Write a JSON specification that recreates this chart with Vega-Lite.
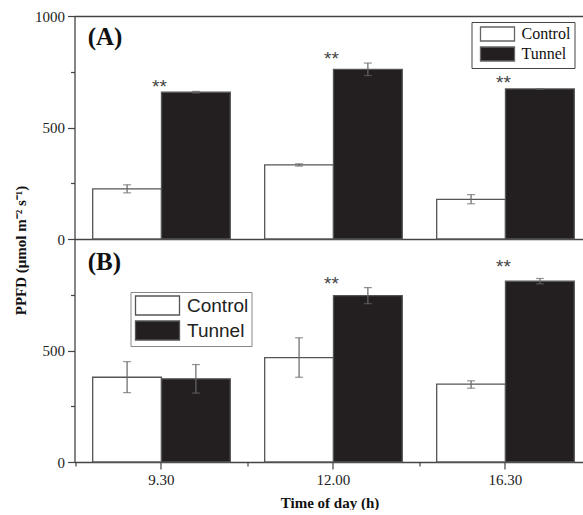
{
  "$schema": "https://vega.github.io/schema/vega-lite/v6.json",
  "autosize": {"type": "pad"},
  "padding": {"left": 12.5, "top": 9, "right": 0, "bottom": 0},
  "background": "white",
  "bounds": "flush",
  "spacing": 0,
  "resolve": {"legend": {"fill": "independent"}},
  "config": {
    "view": {"stroke": null},
    "axis": {
      "labelFont": "Liberation Serif", "labelFontSize": 15, "labelColor": "#222",
      "domainColor": "#444", "tickColor": "#444", "domainWidth": 1.3, "tickWidth": 1.2, "grid": false
    }
  },
  "datasets": {
    "bars": [
      {"panel": "A", "time": "9.30", "group": "Control", "value": 225, "lo": 207, "hi": 243},
      {"panel": "A", "time": "9.30", "group": "Tunnel", "value": 658, "lo": 655, "hi": 662},
      {"panel": "A", "time": "12.00", "group": "Control", "value": 332, "lo": 327, "hi": 337},
      {"panel": "A", "time": "12.00", "group": "Tunnel", "value": 761, "lo": 733, "hi": 789},
      {"panel": "A", "time": "16.30", "group": "Control", "value": 178, "lo": 158, "hi": 199},
      {"panel": "A", "time": "16.30", "group": "Tunnel", "value": 673, "lo": 672, "hi": 674},
      {"panel": "B", "time": "9.30", "group": "Control", "value": 380, "lo": 311, "hi": 450},
      {"panel": "B", "time": "9.30", "group": "Tunnel", "value": 373, "lo": 309, "hi": 437},
      {"panel": "B", "time": "12.00", "group": "Control", "value": 468, "lo": 380, "hi": 557},
      {"panel": "B", "time": "12.00", "group": "Tunnel", "value": 746, "lo": 710, "hi": 782},
      {"panel": "B", "time": "16.30", "group": "Control", "value": 349, "lo": 331, "hi": 364},
      {"panel": "B", "time": "16.30", "group": "Tunnel", "value": 811, "lo": 799, "hi": 823}
    ],
    "stars": [
      {"panel": "A", "time": "9.30", "label": "**", "level": 695},
      {"panel": "A", "time": "12.00", "label": "**", "level": 821},
      {"panel": "A", "time": "16.30", "label": "**", "level": 713},
      {"panel": "B", "time": "12.00", "label": "**", "level": 810},
      {"panel": "B", "time": "16.30", "label": "**", "level": 886}
    ],
    "tags": [
      {"panel": "A", "time": "9.30", "label": "(A)", "level": 906},
      {"panel": "B", "time": "9.30", "label": "(B)", "level": 895}
    ]
  },
  "vconcat": [
    {
      "width": 510, "height": 223,
      "resolve": {"axis": {"x": "independent", "y": "independent"}},
      "layer": [
        {
          "data": {"name": "bars"},
          "transform": [{"filter": "datum.panel === 'A'"}],
          "mark": {"type": "bar", "stroke": "#555", "strokeWidth": 1.3},
          "encoding": {
            "x": {"field": "time", "type": "nominal", "sort": ["9.30", "12.00", "16.30"],
                  "scale": {"paddingInner": 0.2, "paddingOuter": 0.0826, "align": 0.64},
                  "axis": {"orient": "bottom", "title": null, "labels": false, "ticks": false, "domain": true}},
            "xOffset": {"field": "group", "type": "nominal", "sort": ["Control", "Tunnel"], "scale": {"paddingInner": 0, "paddingOuter": 0}},
            "y": {"field": "value", "type": "quantitative", "scale": {"domain": [0, 1000], "nice": false},
                  "axis": {"orient": "left", "values": [0, 500, 1000], "format": "d", "tickSize": 7, "labelPadding": 3, "domain": true,
                           "title": "PPFD (μmol m⁻² s⁻¹)", "titleFont": "Liberation Serif", "titleFontSize": 15, "titleFontWeight": "bold", "titleColor": "#111",
                           "titleX": -54.5, "titleY": 234, "titleAngle": -90, "titleAlign": "center", "titleBaseline": "middle"}},
            "fill": {"field": "group", "type": "nominal", "scale": {"domain": ["Control", "Tunnel"], "range": ["#ffffff", "#231f20"]},
                     "legend": {"title": null, "orient": "none", "legendX": 397, "legendY": 6, "strokeColor": "#444", "padding": 4,
                                "symbolType": "M-2.43,-1L2.43,-1L2.43,1L-2.43,1Z", "symbolSize": 196, "symbolOffset": 14, "symbolStrokeColor": "#666", "symbolStrokeWidth": 1.3,
                                "labelFont": "Liberation Serif", "labelFontSize": 16, "labelColor": "#111", "labelOffset": 16, "rowPadding": 0}}
          }
        },
        {
          "data": {"name": "bars"},
          "transform": [{"filter": "datum.panel === 'A'"}],
          "mark": {"type": "rule", "color": "#666", "strokeWidth": 1.2},
          "encoding": {
            "x": {"field": "time", "type": "nominal", "sort": ["9.30", "12.00", "16.30"],
                  "axis": {"orient": "top", "title": null, "labels": false, "ticks": false, "domain": true}},
            "xOffset": {"field": "group", "type": "nominal", "sort": ["Control", "Tunnel"]},
            "y": {"field": "lo", "type": "quantitative",
                  "axis": {"orient": "left", "values": [250, 750], "tickSize": 4, "labels": false, "domain": false, "title": null}},
            "y2": {"field": "hi"}
          }
        },
        {
          "data": {"name": "bars"},
          "transform": [{"filter": "datum.panel === 'A'"}],
          "mark": {"type": "tick", "color": "#666", "size": 8, "thickness": 1.2},
          "encoding": {
            "x": {"field": "time", "type": "nominal", "sort": ["9.30", "12.00", "16.30"], "axis": null},
            "xOffset": {"field": "group", "type": "nominal", "sort": ["Control", "Tunnel"]},
            "y": {"field": "lo", "type": "quantitative", "axis": null}
          }
        },
        {
          "data": {"name": "bars"},
          "transform": [{"filter": "datum.panel === 'A'"}],
          "mark": {"type": "tick", "color": "#666", "size": 8, "thickness": 1.2},
          "encoding": {
            "x": {"field": "time", "type": "nominal", "sort": ["9.30", "12.00", "16.30"], "axis": null},
            "xOffset": {"field": "group", "type": "nominal", "sort": ["Control", "Tunnel"]},
            "y": {"field": "hi", "type": "quantitative", "axis": null}
          }
        },
        {
          "data": {"name": "stars"},
          "transform": [{"filter": "datum.panel === 'A'"}],
          "mark": {"type": "text", "font": "Liberation Sans", "fontSize": 19, "color": "#444", "baseline": "middle", "dy": 3, "dx": -2},
          "encoding": {
            "x": {"field": "time", "type": "nominal", "sort": ["9.30", "12.00", "16.30"], "axis": null},
            "y": {"field": "level", "type": "quantitative", "axis": null},
            "text": {"field": "label"}
          }
        },
        {
          "data": {"name": "tags"},
          "transform": [{"filter": "datum.panel === 'A'"}],
          "mark": {"type": "text", "font": "Liberation Serif", "fontSize": 25, "fontWeight": "bold", "color": "#111", "align": "left", "baseline": "middle", "dx": -5},
          "encoding": {
            "x": {"field": "time", "type": "nominal", "sort": ["9.30", "12.00", "16.30"], "bandPosition": 0, "axis": null},
            "y": {"field": "level", "type": "quantitative", "axis": null},
            "text": {"field": "label"}
          }
        }
      ]
    },
    {
      "width": 510, "height": 223,
      "resolve": {"axis": {"x": "independent", "y": "independent"}},
      "layer": [
        {
          "data": {"name": "bars"},
          "transform": [{"filter": "datum.panel === 'B'"}],
          "mark": {"type": "bar", "stroke": "#555", "strokeWidth": 1.3},
          "encoding": {
            "x": {"field": "time", "type": "nominal", "sort": ["9.30", "12.00", "16.30"],
                  "scale": {"paddingInner": 0.2, "paddingOuter": 0.0826, "align": 0.64},
                  "axis": {"orient": "bottom", "labelAngle": 0, "tickSize": 7, "labelPadding": 3, "domain": true,
                           "title": "Time of day (h)", "titleFont": "Liberation Serif", "titleFontSize": 15, "titleFontWeight": "bold", "titleColor": "#111", "titlePadding": 8}},
            "xOffset": {"field": "group", "type": "nominal", "sort": ["Control", "Tunnel"], "scale": {"paddingInner": 0, "paddingOuter": 0}},
            "y": {"field": "value", "type": "quantitative", "scale": {"domain": [0, 1000], "nice": false},
                  "axis": {"orient": "left", "values": [0, 500], "tickSize": 7, "labelPadding": 3, "domain": true, "title": null}},
            "fill": {"field": "group", "type": "nominal", "scale": {"domain": ["Control", "Tunnel"], "range": ["#ffffff", "#231f20"]},
                     "legend": {"title": null, "orient": "none", "legendX": 56, "legendY": 53, "strokeColor": "#888", "padding": 3,
                                "symbolType": "M-2.316,-1L2.316,-1L2.316,1L-2.316,1Z", "symbolSize": 361, "symbolOffset": 13.5, "symbolStrokeColor": "#555", "symbolStrokeWidth": 1.3,
                                "labelFont": "Liberation Sans", "labelFontSize": 19, "labelColor": "#222", "labelOffset": 19, "rowPadding": 0}}
          }
        },
        {
          "data": {"name": "bars"},
          "transform": [{"filter": "datum.panel === 'B'"}],
          "mark": {"type": "rule", "color": "#666", "strokeWidth": 1.2},
          "encoding": {
            "x": {"field": "time", "type": "nominal", "sort": ["9.30", "12.00", "16.30"],
                  "axis": {"orient": "bottom", "title": null, "labels": false, "ticks": true, "tickSize": 4, "tickOffset": -86, "domain": false}},
            "xOffset": {"field": "group", "type": "nominal", "sort": ["Control", "Tunnel"]},
            "y": {"field": "lo", "type": "quantitative",
                  "axis": {"orient": "left", "values": [250, 750], "tickSize": 4, "labels": false, "domain": false, "title": null}},
            "y2": {"field": "hi"}
          }
        },
        {
          "data": {"name": "bars"},
          "transform": [{"filter": "datum.panel === 'B'"}],
          "mark": {"type": "tick", "color": "#666", "size": 8, "thickness": 1.2},
          "encoding": {
            "x": {"field": "time", "type": "nominal", "sort": ["9.30", "12.00", "16.30"], "axis": null},
            "xOffset": {"field": "group", "type": "nominal", "sort": ["Control", "Tunnel"]},
            "y": {"field": "lo", "type": "quantitative", "axis": null}
          }
        },
        {
          "data": {"name": "bars"},
          "transform": [{"filter": "datum.panel === 'B'"}],
          "mark": {"type": "tick", "color": "#666", "size": 8, "thickness": 1.2},
          "encoding": {
            "x": {"field": "time", "type": "nominal", "sort": ["9.30", "12.00", "16.30"], "axis": null},
            "xOffset": {"field": "group", "type": "nominal", "sort": ["Control", "Tunnel"]},
            "y": {"field": "hi", "type": "quantitative", "axis": null}
          }
        },
        {
          "data": {"name": "stars"},
          "transform": [{"filter": "datum.panel === 'B'"}],
          "mark": {"type": "text", "font": "Liberation Sans", "fontSize": 19, "color": "#444", "baseline": "middle", "dy": 3, "dx": -2},
          "encoding": {
            "x": {"field": "time", "type": "nominal", "sort": ["9.30", "12.00", "16.30"], "axis": null},
            "y": {"field": "level", "type": "quantitative", "axis": null},
            "text": {"field": "label"}
          }
        },
        {
          "data": {"name": "tags"},
          "transform": [{"filter": "datum.panel === 'B'"}],
          "mark": {"type": "text", "font": "Liberation Serif", "fontSize": 25, "fontWeight": "bold", "color": "#111", "align": "left", "baseline": "middle", "dx": -5},
          "encoding": {
            "x": {"field": "time", "type": "nominal", "sort": ["9.30", "12.00", "16.30"], "bandPosition": 0, "axis": null},
            "y": {"field": "level", "type": "quantitative", "axis": null},
            "text": {"field": "label"}
          }
        }
      ]
    }
  ]
}
